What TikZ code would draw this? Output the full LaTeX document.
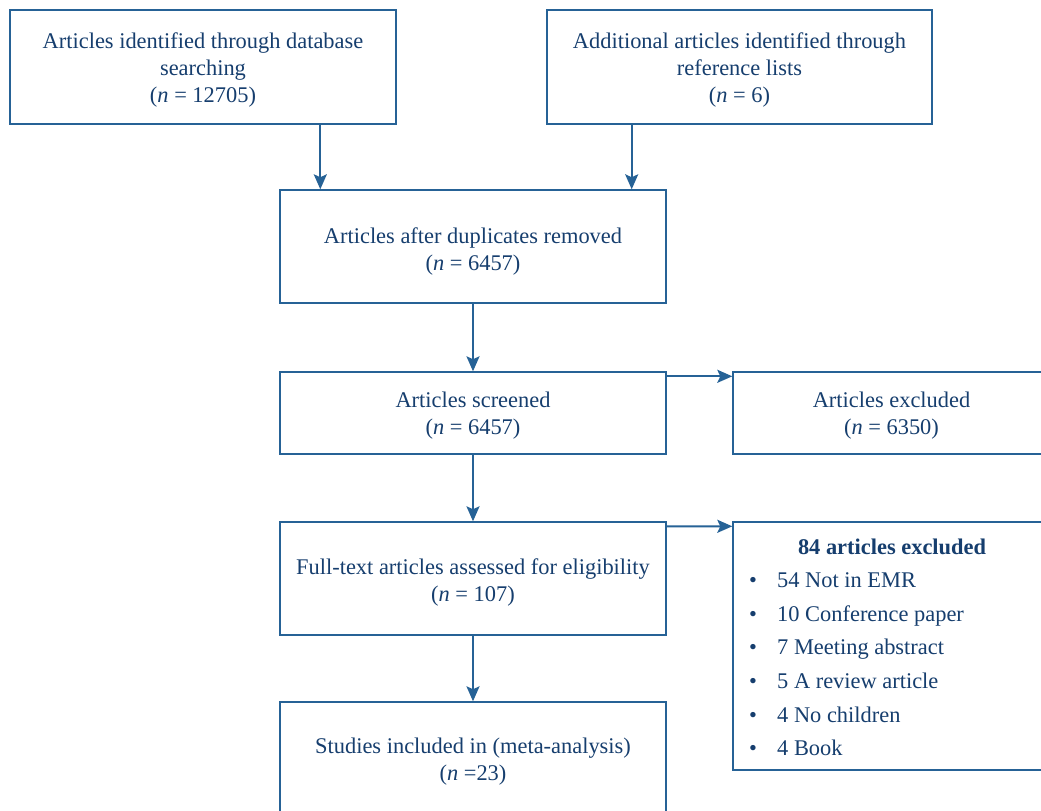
\documentclass[tikz,border=0pt]{standalone}
\usepackage{fontspec}
\setmainfont{Liberation Serif}
\usetikzlibrary{arrows.meta}
\definecolor{ln}{RGB}{38,98,150}
\definecolor{tx}{RGB}{22,62,110}
\begin{document}
\begin{tikzpicture}[x=1bp,y=-1bp,
  box/.style={draw=ln, line width=1.4bp, inner sep=0pt},
  txt/.style={text=tx, inner sep=0pt, align=center, font=\fontsize{22.5}{27}\selectfont},
  arr/.style={draw=ln, line width=2bp, -{Stealth[length=15bp,width=13bp,inset=3bp]}}]
\useasboundingbox (0,0) rectangle (1041,811);
\clip (0,0) rectangle (1041,811);
\fill[white] (0,0) rectangle (1041,811);

\node[box, minimum width=386bp, minimum height=114bp] (A) at (203,67) {};
\node[box, minimum width=385bp, minimum height=114bp] (B) at (739.5,67) {};
\node[box, minimum width=386bp, minimum height=113bp] (C) at (473,246.5) {};
\node[box, minimum width=386bp, minimum height=82bp] (D) at (473,413) {};
\node[box, minimum width=317bp, minimum height=82bp] (E) at (891.5,413) {};
\node[box, minimum width=386bp, minimum height=113bp] (F) at (473,578.5) {};
\node[box, minimum width=317bp, minimum height=248bp] (G) at (891.5,646) {};
\node[box, minimum width=386bp, minimum height=116bp] (H) at (473,760) {};

\node[txt] (At) at ([yshift=-3bp]A.center)
  {Articles identified through database\\searching\\(\textit{n} = 12705)};
\node[txt] (Bt) at ([yshift=-3bp]B.center)
  {Additional articles identified through\\reference lists\\(\textit{n} = 6)};
\node[txt] (Ct) at ([yshift=-5bp]C.center)
  {Articles after duplicates removed\\(\textit{n} = 6457)};
\node[txt] (Dt) at ([yshift=-3bp]D.center)
  {Articles screened\\(\textit{n} = 6457)};
\node[txt] (Et) at ([yshift=-3bp]E.center)
  {Articles excluded\\(\textit{n} = 6350)};
\node[txt] (Ft) at ([yshift=-4bp]F.center)
  {Full-text articles assessed for eligibility\\(\textit{n} = 107)};
\node[txt] (Ht) at (473,762)
  {Studies included in (meta-analysis)\\(\textit{n} =23)};

\node[txt, anchor=base, font=\fontsize{22.5}{27}\selectfont\bfseries] (G0) at (892,554) {84 articles excluded};
\foreach \i/\t [count=\k] in {587/54 Not in EMR, 621/10 Conference paper, 654/7 Meeting abstract,
  688/5 A review article, 722/4 No children, 755/4 Book}{
  \node[txt, anchor=base] (gb\k) at (753,\i) {\textbullet};
  \node[txt, anchor=base west] (gt\k) at (777,\i) {\t};
}

\coordinate (c1) at ([xshift=41bp]C.north west);
\coordinate (c2) at ([xshift=-35bp]C.north east);
\draw[arr] (c1 |- A.south) -- (c1);
\draw[arr] (c2 |- B.south) -- (c2);
\draw[arr] (C.south) -- (D.north);
\draw[arr] (D.south) -- (F.north);
\draw[arr] (F.south) -- (H.north);
\draw[arr] ([yshift=-5bp]D.north east) -- ([yshift=-5bp]E.north west);
\draw[arr] ([yshift=-5bp]F.north east) -- ([yshift=-5bp]G.north west);
\end{tikzpicture}
\end{document}
